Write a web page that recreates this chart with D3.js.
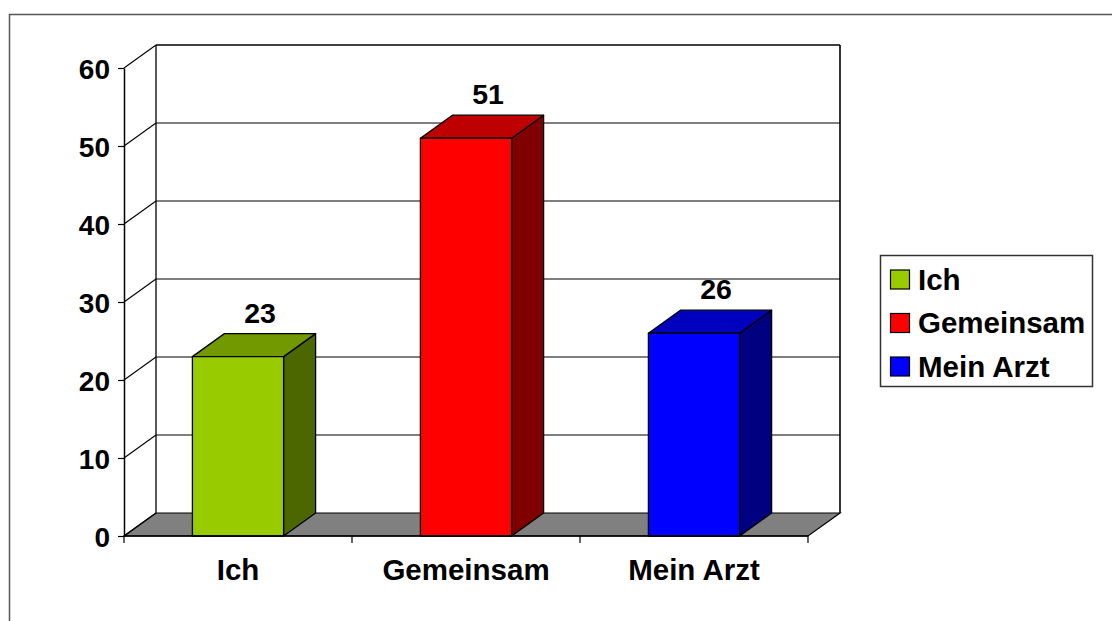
<!DOCTYPE html>
<html><head><meta charset="utf-8">
<script src="https://cdn.jsdelivr.net/npm/d3@7"></script>
<style>body{margin:0;background:#fff}svg{display:block}text{font-family:"Liberation Sans",Arial,sans-serif;font-weight:bold;fill:#000}</style>
</head><body><svg id="c" width="1112" height="621"></svg>
<script>
const categories = ["Ich", "Gemeinsam", "Mein Arzt"];
const values = [23, 51, 26];
const yTicks = [0, 10, 20, 30, 40, 50, 60];
const frontColors = ["#99CC00", "#FF0000", "#0000FF"];
const topColors = ["#739900", "#BF0000", "#0000BF"];
const sideColors = ["#4C6600", "#800000", "#000080"];

const svg = d3.select("#c");
const DX = 32, DY = -23;
const x0 = 124, x1 = 808, yBase = 536, yTop = 68;
const x = d3.scaleBand().domain(categories).range([x0, x1]).paddingInner(0.6).paddingOuter(0.3);
const y = d3.scaleLinear().domain([0, 60]).range([yBase, yTop]);

// outer frame
svg.append("rect").attr("x", 9.5).attr("y", 14.5).attr("width", 1200).attr("height", 700)
  .attr("fill", "none").attr("stroke", "#555").attr("stroke-width", 1.5);

const g = svg.append("g");
// floor
g.append("path").attr("d", `M${x0},${yBase}L${x1},${yBase}L${x1+DX},${yBase+DY}L${x0+DX},${yBase+DY}Z`)
  .attr("fill", "#808080").attr("stroke", "#000").attr("stroke-width", 1.2);
// back wall gridlines and side-wall diagonals
yTicks.forEach(t => {
  const yy = y(t);
  if (t > 0) g.append("line").attr("x1", x0+DX).attr("x2", x1+DX).attr("y1", yy+DY).attr("y2", yy+DY)
    .attr("stroke", "#000").attr("stroke-width", t === 60 ? 1.6 : 1.1);
  g.append("line").attr("x1", x0).attr("y1", yy).attr("x2", x0+DX).attr("y2", yy+DY)
    .attr("stroke", "#000").attr("stroke-width", 1.1);
});
// back wall verticals
g.append("line").attr("x1", x0+DX).attr("x2", x0+DX).attr("y1", y(60)+DY).attr("y2", yBase+DY).attr("stroke", "#000").attr("stroke-width", 1.3);
g.append("line").attr("x1", x1+DX).attr("x2", x1+DX).attr("y1", y(60)+DY).attr("y2", yBase+DY).attr("stroke", "#000").attr("stroke-width", 1.6);

// bars
categories.forEach((c, i) => {
  const bx = x(c), bw = x.bandwidth(), by = y(values[i]);
  const bg = g.append("g").attr("stroke", "#000").attr("stroke-width", 1.3).attr("stroke-linejoin", "round");
  bg.append("path").attr("d", `M${bx+bw},${yBase}L${bx+bw+DX},${yBase+DY}L${bx+bw+DX},${by+DY}L${bx+bw},${by}Z`).attr("fill", sideColors[i]);
  bg.append("path").attr("d", `M${bx},${by}L${bx+DX},${by+DY}L${bx+bw+DX},${by+DY}L${bx+bw},${by}Z`).attr("fill", topColors[i]);
  bg.append("rect").attr("x", bx).attr("y", by).attr("width", bw).attr("height", yBase-by).attr("fill", frontColors[i]);
  g.append("text").attr("x", bx+bw/2+22).attr("y", by+DY-11).attr("text-anchor", "middle")
    .attr("font-size", 28.5).text(values[i]);
});

// y axis
const ya = svg.append("g").attr("transform", `translate(${x0},0)`)
  .call(d3.axisLeft(y).tickValues(yTicks).tickSize(6).tickPadding(6).tickSizeOuter(0));
ya.select(".domain").attr("stroke", "#000").attr("stroke-width", 1.5);
ya.selectAll(".tick line").attr("stroke", "#000").attr("stroke-width", 1.2);
ya.selectAll(".tick text").attr("font-size", 28).attr("font-family", "Liberation Sans, Arial").attr("font-weight", "bold").attr("fill", "#000").attr("dy", "0.37em").attr("x", -14);

// category axis
svg.append("line").attr("x1", x0).attr("x2", x1).attr("y1", yBase).attr("y2", yBase).attr("stroke", "#000").attr("stroke-width", 1.5);
const step = x.step();
const bounds = categories.map(c => x(c) - step * 0.3).concat([x1]);
bounds.forEach(b => svg.append("line").attr("x1", b).attr("x2", b).attr("y1", yBase).attr("y2", yBase+7).attr("stroke", "#000").attr("stroke-width", 1.2));
categories.forEach(c => svg.append("text").attr("x", x(c)+x.bandwidth()/2).attr("y", 580).attr("text-anchor", "middle").attr("font-size", 29.5).text(c));

// legend
const lg = svg.append("g");
lg.append("rect").attr("x", 880.5).attr("y", 255.5).attr("width", 212).attr("height", 131)
  .attr("fill", "#fff").attr("stroke", "#333").attr("stroke-width", 1.5);
categories.forEach((c, i) => {
  const yy = 270 + i * 43.5;
  lg.append("rect").attr("x", 890.5).attr("y", yy).attr("width", 19).attr("height", 19)
    .attr("fill", frontColors[i]).attr("stroke", "#000").attr("stroke-width", 1.2);
  lg.append("text").attr("x", 918).attr("y", yy + 19.5).attr("font-size", 29.5).text(c);
});
</script></body></html>
